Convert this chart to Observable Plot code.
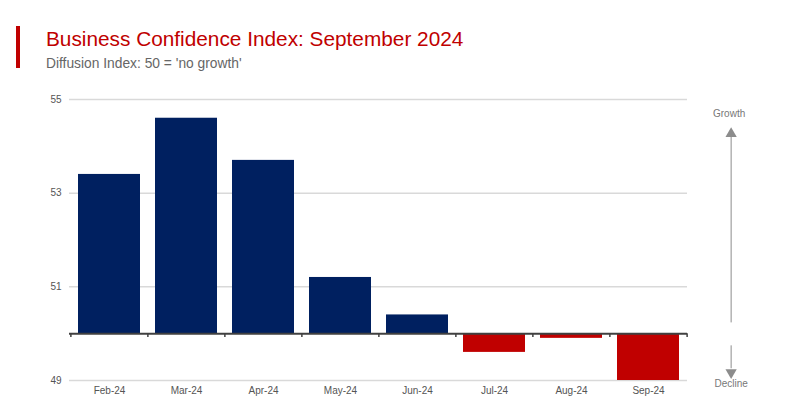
<!DOCTYPE html>
<html><head><meta charset="utf-8">
<script src="https://cdn.jsdelivr.net/npm/d3@7"></script>
<script src="https://cdn.jsdelivr.net/npm/@observablehq/plot@0.6"></script>
<style>
body{margin:0;background:#fff;font-family:"Liberation Sans",Arial,sans-serif;}
#wrap{position:relative;width:800px;height:400px;}
#bar{position:absolute;left:16px;top:26px;width:4px;height:42px;background:#c00000;}
#title{position:absolute;left:46px;top:27px;font-size:20.8px;color:#c00000;line-height:24px;}
#sub{position:absolute;left:46px;top:56px;font-size:13.8px;color:#666;line-height:16px;}
#chart{position:absolute;left:0;top:80px;}
</style></head>
<body><div id="wrap"><div id="bar"></div>
<div id="title">Business Confidence Index: September 2024</div>
<div id="sub">Diffusion Index: 50 = 'no growth'</div>
<div id="chart"></div></div>
<script>
const months = ["Feb-24","Mar-24","Apr-24","May-24","Jun-24","Jul-24","Aug-24","Sep-24"];
const values = [53.4, 54.6, 53.7, 51.2, 50.4, 49.6, 49.9, 49.0];
const yTicks = [49, 51, 53, 55];
const baseline = 50;
const data = months.map((m, i) => ({month: m, value: values[i]}));

const W = 800, H = 320, ml = 69, mr = 113;
const step = (W - ml - mr) / months.length;
const annDx = (731 - (W - mr)) + step / 2;
const gray = "#8c8c8c";
const last = months[months.length - 1];

const chart = Plot.plot({
  width: W, height: H,
  marginLeft: ml, marginRight: mr, marginTop: 19, marginBottom: 20,
  style: {fontFamily: "'Liberation Sans', Arial, sans-serif", fontSize: "10px", color: "#555"},
  x: {domain: months, paddingInner: 0.2, paddingOuter: 0.1, label: null},
  y: {domain: [49, 55], ticks: yTicks, label: null},
  marks: [
    Plot.gridY(yTicks, {stroke: "#d9d9d9", strokeWidth: 1.5, strokeOpacity: 1}),
    Plot.axisY(yTicks, {tickSize: 0, tickPadding: 8, fill: "#555", label: null}),
    Plot.axisX({tickSize: 0, tickPadding: 6, fill: "#555", label: null}),
    Plot.barY(data, {x: "month", y1: baseline, y2: "value",
      fill: d => d.value >= baseline ? "#002060" : "#c00000"}),
    Plot.ruleY([baseline], {stroke: "#404040", strokeWidth: 2}),
    Plot.ruleX(months, {x: d => d, y1: baseline, y2: baseline - 0.08, dx: -step / 2, stroke: "#404040", strokeWidth: 1.5}),
    Plot.ruleX([last], {x: d => d, y1: baseline, y2: baseline - 0.08, dx: step / 2, stroke: "#404040", strokeWidth: 1.5}),
    Plot.ruleX([last], {x: d => d, y1: 50.23, y2: 54.25, dx: annDx, stroke: gray, strokeWidth: 1}),
    Plot.dot([last], {x: d => d, y: 54.27, dx: annDx, symbol: "triangle", r: 4.2, fill: gray, stroke: null}),
    Plot.ruleX([last], {x: d => d, y1: 49.74, y2: 49.25, dx: annDx, stroke: gray, strokeWidth: 1}),
    Plot.dot([last], {x: d => d, y: 49.17, dx: annDx, symbol: "triangle", rotate: 180, r: 4.2, fill: gray, stroke: null}),
    Plot.text(["Growth"], {x: () => last, y: 54.7, dx: annDx - 2, fill: "#777", fontSize: 10}),
    Plot.text(["Decline"], {x: () => last, y: 48.93, dx: annDx, fill: "#777", fontSize: 10})
  ]
});
document.getElementById("chart").appendChild(chart);
</script></body></html>
